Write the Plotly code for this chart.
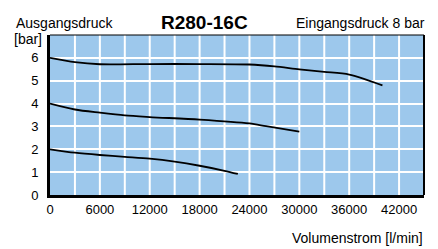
import plotly.graph_objects as go

# Data
flow_hi = [0, 3000, 6000, 12000, 18000, 24000, 27000, 30000, 33000, 36000, 40000]
p_hi = [6.0, 5.81, 5.72, 5.73, 5.73, 5.71, 5.63, 5.50, 5.39, 5.27, 4.80]

flow_mid = [0, 3000, 6000, 9000, 12000, 18000, 24000, 26000, 30000]
p_mid = [4.0, 3.74, 3.60, 3.48, 3.41, 3.30, 3.13, 3.01, 2.77]

flow_lo = [0, 3000, 6000, 9000, 12000, 15000, 18000, 21000, 22600]
p_lo = [2.0, 1.85, 1.75, 1.67, 1.59, 1.46, 1.28, 1.06, 0.92]

x_ticks = [0, 6000, 12000, 18000, 24000, 30000, 36000, 42000]
y_ticks = [0, 1, 2, 3, 4, 5, 6]

title_text = "R280-16C"
y_label = "Ausgangsdruck"
y_unit = "[bar]"
inlet_text = "Eingangsdruck 8 bar"
x_label = "Volumenstrom [l/min]"

FONT = "Liberation Sans Narrow, Liberation Sans, Arial, sans-serif"

fig = go.Figure()
for xs, ys in [(flow_hi, p_hi), (flow_mid, p_mid), (flow_lo, p_lo)]:
    fig.add_trace(go.Scatter(x=xs, y=ys, mode="lines", line=dict(color="black", width=1.8, shape="spline", smoothing=0.8),
                             showlegend=False, hoverinfo="skip"))

W, H = 438, 249
L, R, T, B = 50, 13.5, 35, 54
PW, PH = W - L - R, H - T - B


def px(x):
    return (x - L) / PW


def py(y):
    return (H - B - y) / PH


fig.update_layout(
    width=W, height=H,
    margin=dict(l=L, r=R, t=T, b=B, autoexpand=False),
    paper_bgcolor="white",
    plot_bgcolor="#9DC8EC",
    font=dict(family=FONT, size=13, color="black"),
    showlegend=False,
)
fig.update_xaxes(range=[0, 45000], tickvals=x_ticks, ticktext=[str(v) for v in x_ticks],
                 showgrid=False, zeroline=False, ticks="", showline=True, linecolor="black", linewidth=3,
                 mirror=False, tickfont=dict(family=FONT, size=13), automargin=False)
fig.update_yaxes(range=[0, 7], tickvals=y_ticks, showgrid=True, gridcolor="white", gridwidth=2,
                 zeroline=False, ticks="", showline=True, linecolor="black", linewidth=3,
                 mirror=False, tickfont=dict(family=FONT, size=13), ticklabelstandoff=6, automargin=False)

# vertical grid lines every 3000
for gx in range(3000, 45000, 3000):
    fig.add_shape(type="line", xref="x", yref="y", x0=gx, x1=gx, y0=0, y1=7,
                  line=dict(color="white", width=2), layer="below")
# top and right border
fig.add_shape(type="line", xref="paper", yref="paper", x0=0, x1=1, y0=1, y1=1, line=dict(color="black", width=1.2))
fig.add_shape(type="line", xref="paper", yref="paper", x0=1, x1=1, y0=0, y1=1, line=dict(color="black", width=2))

fig.add_annotation(x=px(14), y=py(23), xref="paper", yref="paper", xanchor="left", yanchor="middle",
                   text=y_label, showarrow=False, font=dict(family=FONT, size=14))
fig.add_annotation(x=px(12), y=py(39), xref="paper", yref="paper", xanchor="left", yanchor="middle",
                   text=y_unit, showarrow=False, font=dict(family=FONT, size=14))
fig.add_annotation(x=px(205), y=py(22.5), xref="paper", yref="paper", xanchor="center", yanchor="middle",
                   text="<b>" + title_text + "</b>", showarrow=False, font=dict(family=FONT, size=19))
fig.add_annotation(x=px(428), y=py(23), xref="paper", yref="paper", xanchor="right", yanchor="middle",
                   text=inlet_text, showarrow=False, font=dict(family=FONT, size=14))
fig.add_annotation(x=px(426), y=py(237.5), xref="paper", yref="paper", xanchor="right", yanchor="middle",
                   text=x_label, showarrow=False, font=dict(family=FONT, size=14))

fig.write_html("out.html", config={"displayModeBar": False},
               post_script="document.body.style.margin='0';document.body.style.padding='0';")
